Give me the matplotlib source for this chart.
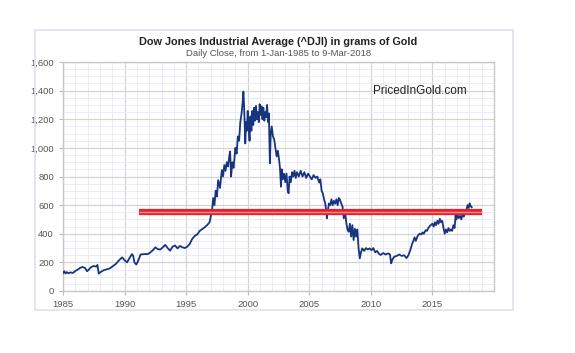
import matplotlib
matplotlib.use("Agg")
import matplotlib.pyplot as plt
from matplotlib.patches import Rectangle
from matplotlib.ticker import MultipleLocator, FuncFormatter

plt.rcParams["font.family"] = ["Liberation Sans", "DejaVu Sans"]

title = "Dow Jones Industrial Average (^DJI) in grams of Gold"
subtitle = "Daily Close, from 1-Jan-1985 to 9-Mar-2018"
watermark = "PricedInGold.com"

years = [1985.0, 1985.1, 1985.2, 1985.3, 1985.45, 1985.6, 1985.8, 1986.0, 1986.2, 1986.4, 1986.6, 1986.8, 1986.95,
         1987.1, 1987.3, 1987.5, 1987.7, 1987.8, 1987.9, 1988.1, 1988.3, 1988.5, 1988.8, 1989.0, 1989.3,
         1989.5, 1989.8, 1990.0, 1990.2, 1990.4, 1990.6, 1990.7, 1990.8, 1990.95, 1991.1, 1991.3, 1991.6,
         1991.9, 1992.1, 1992.3, 1992.5, 1992.7, 1992.9, 1993.1, 1993.3, 1993.5, 1993.7, 1993.9, 1994.1,
         1994.3, 1994.5, 1994.7, 1994.9, 1995.1, 1995.3, 1995.5, 1995.7, 1995.9, 1996.1, 1996.3, 1996.5,
         1996.7, 1996.9, 1997.0, 1997.1, 1997.2, 1997.3, 1997.4, 1997.5, 1997.6, 1997.75, 1997.9, 1998.0,
         1998.1, 1998.2, 1998.3, 1998.4, 1998.5, 1998.57, 1998.65, 1998.75, 1998.85, 1999.0, 1999.1, 1999.2,
         1999.3, 1999.4, 1999.5, 1999.6, 1999.65, 1999.7, 1999.75, 1999.8, 1999.87, 1999.93, 2000.0, 2000.07,
         2000.15, 2000.22, 2000.3, 2000.37, 2000.45, 2000.52, 2000.6, 2000.67, 2000.75, 2000.82, 2000.9, 2000.97,
         2001.05, 2001.12, 2001.2, 2001.27, 2001.35, 2001.42, 2001.5, 2001.57, 2001.65, 2001.72, 2001.8, 2001.87,
         2001.95, 2002.05, 2002.15, 2002.25, 2002.35, 2002.45, 2002.55, 2002.62, 2002.7, 2002.77, 2002.85, 2002.95,
         2003.05, 2003.15, 2003.25, 2003.32, 2003.4, 2003.5, 2003.6, 2003.7, 2003.8, 2003.9, 2004.0, 2004.15,
         2004.3, 2004.45, 2004.6, 2004.75, 2004.9, 2005.05, 2005.2, 2005.35, 2005.5, 2005.65, 2005.8, 2005.9,
         2006.0, 2006.1, 2006.2, 2006.3, 2006.37, 2006.43, 2006.5, 2006.6, 2006.7, 2006.8, 2006.9, 2007.0,
         2007.1, 2007.2, 2007.3, 2007.4, 2007.5, 2007.6, 2007.7, 2007.8, 2007.9, 2008.0, 2008.1, 2008.2,
         2008.3, 2008.4, 2008.5, 2008.6, 2008.7, 2008.8, 2008.9, 2009.0, 2009.1, 2009.2, 2009.3, 2009.45,
         2009.6, 2009.75, 2009.9, 2010.05, 2010.2, 2010.35, 2010.5, 2010.65, 2010.8, 2011.0, 2011.2, 2011.4,
         2011.55, 2011.65, 2011.75, 2011.9, 2012.1, 2012.3, 2012.5, 2012.7, 2012.9, 2013.05, 2013.2, 2013.35,
         2013.45, 2013.55, 2013.65, 2013.8, 2013.95, 2014.1, 2014.2, 2014.3, 2014.45, 2014.55, 2014.7, 2014.85,
         2015.0, 2015.1, 2015.2, 2015.3, 2015.4, 2015.5, 2015.6, 2015.7, 2015.8, 2015.9, 2016.0, 2016.1,
         2016.2, 2016.3, 2016.4, 2016.5, 2016.6, 2016.7, 2016.8, 2016.88, 2016.95, 2017.05, 2017.15, 2017.25,
         2017.35, 2017.45, 2017.55, 2017.65, 2017.75, 2017.85, 2017.95, 2018.02, 2018.1, 2018.19]

values = [125, 138, 122, 132, 124, 130, 126, 140, 150, 162, 168, 160, 138,
          150, 168, 175, 170, 182, 122, 135, 145, 150, 158, 170, 190,
          210, 235, 215, 200, 230, 258, 245, 200, 185, 210, 255, 258,
          258, 270, 285, 305, 292, 290, 305, 322, 300, 282, 310, 318,
          298, 315, 305, 300, 310, 330, 365, 385, 395, 420, 432, 445,
          460, 480, 520, 560, 650, 600, 700, 660, 775, 720, 845, 800,
          880, 840, 900, 870, 940, 975, 800, 900, 860, 1000, 960, 1080,
          1050, 1180, 1240, 1330, 1393, 1300, 1180, 1031, 1180, 1120, 1258, 1150,
          1050, 1220, 1120, 1258, 1160, 1280, 1190, 1293, 1200, 1250, 1180, 1305,
          1230, 1290, 1200, 1280, 1190, 1250, 1215, 1300, 1180, 1240, 892, 1100,
          1150, 1080, 1060, 1000, 940, 980, 915, 860, 729, 850, 780, 820,
          760, 820, 700, 683, 800, 760, 830, 800, 840, 790, 830, 800,
          840, 800, 830, 790, 820, 800, 780, 810, 790, 800, 757, 780,
          700, 682, 640, 612, 560, 508, 560, 612, 600, 640, 600, 630,
          610, 640, 600, 650, 636, 610, 590, 508, 560, 480, 430, 414,
          470, 380, 460, 356, 435, 380, 430, 300, 228, 270, 298, 280,
          300, 290, 298, 285, 300, 270, 280, 260, 252, 265, 255, 263,
          255, 193, 220, 240, 245, 255, 245, 250, 230, 250, 285, 330,
          350, 375, 350, 385, 400, 395, 410, 400, 425, 420, 445, 460,
          470, 450, 480, 460, 490, 470, 505, 480, 490, 440, 400, 430,
          410, 440, 420, 430, 420, 460, 440, 530, 500, 530, 510, 525,
          500, 540, 520, 545, 560, 600, 580, 612, 595, 585]

ref_level = [550, 550]
ref_years = [1991.2, 2019.0]

yticks = [0, 200, 400, 600, 800, 1000, 1200, 1400, 1600]
xticks = [1985, 1990, 1995, 2000, 2005, 2010, 2015]

fig = plt.figure(figsize=(5.75, 3.53), dpi=100)
fig.patches.append(Rectangle((35/575, 1-310/353), (513-35)/575, (310-30)/353,
                             transform=fig.transFigure, fill=False,
                             edgecolor="#dde1ea", linewidth=1.2))
ax = fig.add_axes([63/575, 1-291/353, (494-63)/575, (291-62)/353])

ax.set_xlim(1985, 2020)
ax.set_ylim(0, 1600)
ax.set_xticks(xticks)
ax.set_yticks(yticks)
ax.xaxis.set_minor_locator(MultipleLocator(1))
ax.yaxis.set_minor_locator(MultipleLocator(50))
ax.yaxis.set_major_formatter(FuncFormatter(lambda v, p: f"{int(v):,}"))
ax.grid(which="major", color="#d4d4d8", linewidth=0.9)
ax.grid(which="minor", color="#e8e8f8", linewidth=0.6)
ax.set_axisbelow(True)
for s in ax.spines.values():
    s.set_color("#c8c8c8")
    s.set_linewidth(1.0)
ax.tick_params(which="major", labelsize=6.8, labelcolor="#555555", color="#bbbbbb", length=3)
ax.tick_params(which="minor", length=0)

ax.plot(years, values, color="#17347f", linewidth=1.3, zorder=3)
ax.plot(ref_years, ref_level, color="#e8202a", linewidth=4.5, solid_capstyle="butt", zorder=4)
ax.plot(ref_years, ref_level, color="#ff8a8a", linewidth=1.0, solid_capstyle="butt", zorder=5)

ax.text(2014.0, 1400, watermark, fontsize=8.5, color="#222222", ha="center", va="center", zorder=6)

cx = (63 + 494) / 2 / 575
fig.text(cx, 1-42/353, title, ha="center", va="center", fontsize=7.8, fontweight="bold", color="#222222")
fig.text(cx, 1-54/353, subtitle, ha="center", va="center", fontsize=6.8, color="#555555")

fig.savefig("out.png", dpi=100)
